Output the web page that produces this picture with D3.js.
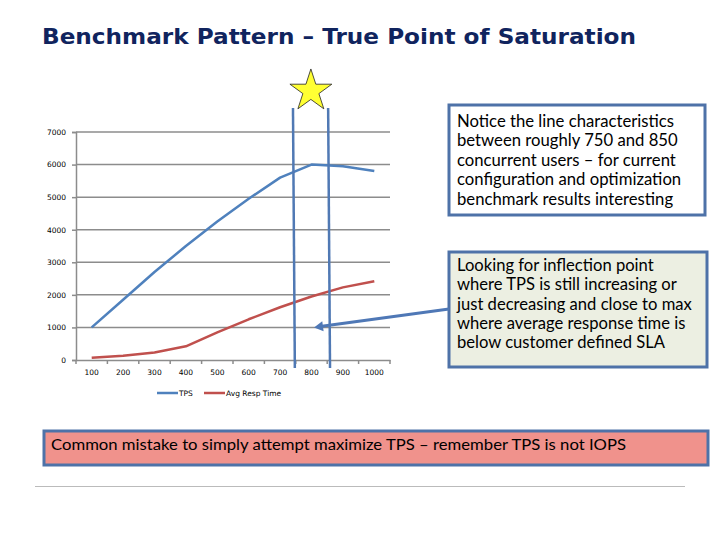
<!DOCTYPE html>
<html>
<head>
<meta charset="utf-8">
<script src="https://cdn.jsdelivr.net/npm/d3@7"></script>
<style>
  body { margin: 0; background: #fff; }
  svg { display: block; }
</style>
</head>
<body>
<div id="chart"></div>
<script>
// chart data
var users = [100, 200, 300, 400, 500, 600, 700, 800, 900, 1000];
var tps = [1000, 1850, 2700, 3500, 4250, 4950, 5600, 6000, 5950, 5800];
var respTime = [70, 130, 230, 420, 850, 1250, 1620, 1950, 2230, 2420];
var yTicks = [0, 1000, 2000, 3000, 4000, 5000, 6000, 7000];
var seriesNames = ["TPS", "Avg Resp Time"];
var seriesColors = ["#4F81BD", "#C0504D"];

var titleText = "Benchmark Pattern \u2013 True Point of Saturation";
var noteLines = ["Notice the line characteristics",
    "between roughly 750 and 850",
    "concurrent users \u2013 for current",
    "configuration and optimization",
    "benchmark results interesting"];
var inflectionLines = ["Looking for inflection point",
    "where TPS is still increasing or",
    "just decreasing and close to max",
    "where average response time is",
    "below customer defined SLA"];
var mistakeText = "Common mistake to simply attempt maximize TPS \u2013 remember TPS is not IOPS";

var width = 720, height = 540;
var plot = { left: 76, right: 390, top: 100, bottom: 360 };
var boxBorder = "#4E72A8";

var svg = d3.select("#chart").append("svg")
    .attr("width", width)
    .attr("height", height);

// title
svg.append("text")
    .attr("x", 42)
    .attr("y", 44)
    .attr("font-family", "DejaVu Sans, Verdana, sans-serif")
    .attr("font-weight", "bold")
    .attr("font-size", 21)
    .attr("fill", "#10245E")
    .attr("textLength", 594)
    .attr("lengthAdjust", "spacingAndGlyphs")
    .text(titleText);

var x = d3.scaleBand()
    .domain(users)
    .range([plot.left, plot.right]);

// continuous user scale through the band centres, for annotations
var xUsers = d3.scaleLinear()
    .domain([users[0], users[users.length - 1]])
    .range([x(users[0]) + x.bandwidth() / 2, x(users[users.length - 1]) + x.bandwidth() / 2]);

var y = d3.scaleLinear()
    .domain([0, 7000])
    .range([plot.bottom, plot.bottom - 7000 * 0.03257]);

// gridlines
svg.append("g")
  .selectAll("line")
  .data(yTicks.slice(1))
  .enter()
  .append("line")
    .attr("x1", plot.left)
    .attr("x2", plot.right)
    .attr("y1", function(d) { return y(d); })
    .attr("y2", function(d) { return y(d); })
    .attr("stroke", "#8C8C8C")
    .attr("stroke-width", 1.5);

// y axis
var yAxis = svg.append("g")
    .attr("transform", "translate(" + plot.left + ",0)")
    .call(d3.axisLeft(y).tickValues(yTicks).tickFormat(d3.format("d")).tickSize(4).tickPadding(6));
yAxis.select(".domain").attr("stroke", "#8C8C8C").attr("stroke-width", 1.5);
yAxis.selectAll(".tick line").attr("stroke", "#8C8C8C").attr("stroke-width", 1.5);
yAxis.selectAll("text")
    .attr("font-family", "DejaVu Sans, Verdana, sans-serif")
    .attr("font-size", 7.5)
    .attr("fill", "#000");

// x axis
var xAxis = svg.append("g")
    .attr("transform", "translate(0," + plot.bottom + ")")
    .call(d3.axisBottom(x).tickSize(0).tickPadding(10));
xAxis.select(".domain").attr("stroke", "#8C8C8C").attr("stroke-width", 1.5);
xAxis.selectAll("text")
    .attr("font-family", "DejaVu Sans, Verdana, sans-serif")
    .attr("font-size", 7.5)
    .attr("fill", "#000");
xAxis.selectAll(".boundary")
  .data(users.concat(["end"]))
  .enter()
  .append("line")
    .attr("class", "boundary")
    .attr("x1", function(d) { return d === "end" ? plot.right : x(d); })
    .attr("x2", function(d) { return d === "end" ? plot.right : x(d); })
    .attr("y1", 0)
    .attr("y2", 4)
    .attr("stroke", "#8C8C8C")
    .attr("stroke-width", 1.5);

// series lines
var series = [tps, respTime];
var line = d3.line()
    .x(function(d, i) { return x(users[i]) + x.bandwidth() / 2; })
    .y(function(d) { return y(d); });

svg.append("g")
  .selectAll("path")
  .data(series)
  .enter()
  .append("path")
    .attr("d", line)
    .attr("fill", "none")
    .attr("stroke", function(d, i) { return seriesColors[i]; })
    .attr("stroke-width", 2.5)
    .attr("stroke-linejoin", "round");

// legend
var legend = svg.append("g")
    .attr("transform", "translate(157,393)");
var legendItems = legend.selectAll("g")
  .data(seriesNames)
  .enter()
  .append("g")
    .attr("transform", function(d, i) { return "translate(" + (i * 47) + ",0)"; });
legendItems.append("line")
    .attr("x1", 0)
    .attr("x2", 21)
    .attr("stroke", function(d, i) { return seriesColors[i]; })
    .attr("stroke-width", 2.5);
legendItems.append("text")
    .attr("x", 22)
    .attr("dy", "0.35em")
    .attr("font-family", "DejaVu Sans, Verdana, sans-serif")
    .attr("font-size", 7.5)
    .text(function(d) { return d; });

// saturation window marks
var windowLines = [[741, 747], [853, 859]];
svg.append("g")
  .selectAll("line")
  .data(windowLines)
  .enter()
  .append("line")
    .attr("x1", function(d) { return xUsers(d[0]); })
    .attr("x2", function(d) { return xUsers(d[1]); })
    .attr("y1", 108)
    .attr("y2", 368)
    .attr("stroke", "#5079B4")
    .attr("stroke-width", 2.5);

// star
svg.append("path")
    .attr("d", d3.symbol().type(d3.symbolStar).size(545)())
    .attr("transform", "translate(" + (xUsers(798)) + ",91)")
    .attr("fill", "#FFFF33")
    .attr("stroke", "#222")
    .attr("stroke-width", 0.8);

// text boxes
function textBox(bx, by, bw, bh, fill, lines, fontSize, lineGap, firstY, textX) {
  var g = svg.append("g");
  g.append("rect")
      .attr("x", bx)
      .attr("y", by)
      .attr("width", bw)
      .attr("height", bh)
      .attr("fill", fill)
      .attr("stroke", boxBorder)
      .attr("stroke-width", 3);
  g.selectAll("text")
    .data(lines)
    .enter()
    .append("text")
      .attr("x", textX)
      .attr("y", function(d, i) { return firstY + i * lineGap; })
      .attr("dy", "0.35em")
      .attr("font-family", "Lato, 'Open Sans', sans-serif")
      .attr("font-size", fontSize)
      .attr("fill", "#000")
      .text(function(d) { return d; });
  return g;
}

textBox(449, 105, 256, 110, "#FFFFFF", noteLines, 16.7, 19.5, 121, 457);
textBox(449, 252, 258, 115, "#ECEFE2", inflectionLines, 16.6, 19.4, 265, 457);

// arrow from inflection box to the chart
var arrowFrom = [449, 309];
var arrowTo = [xUsers(808), y(1000)];
svg.append("line")
    .attr("x1", arrowFrom[0])
    .attr("y1", arrowFrom[1])
    .attr("x2", arrowTo[0] + 6)
    .attr("y2", arrowTo[1] - 1)
    .attr("stroke", "#4F78B6")
    .attr("stroke-width", 3);
var ang = Math.atan2(arrowTo[1] - arrowFrom[1], arrowTo[0] - arrowFrom[0]);
var headLen = 9, headW = 5;
var hx = arrowTo[0], hy = arrowTo[1];
var bx = hx - headLen * Math.cos(ang), byy = hy - headLen * Math.sin(ang);
svg.append("path")
    .attr("d", "M" + hx + "," + hy +
        "L" + (bx - headW * Math.sin(ang)) + "," + (byy + headW * Math.cos(ang)) +
        "L" + (bx + headW * Math.sin(ang)) + "," + (byy - headW * Math.cos(ang)) + "Z")
    .attr("fill", "#4F78B6");

// mistake banner
var banner = svg.append("g");
banner.append("rect")
    .attr("x", 44)
    .attr("y", 431)
    .attr("width", 664)
    .attr("height", 34)
    .attr("fill", "#F0928C")
    .attr("stroke", boxBorder)
    .attr("stroke-width", 3);
banner.append("text")
    .attr("x", 51)
    .attr("y", 444)
    .attr("dy", "0.35em")
    .attr("font-family", "Lato, 'Open Sans', sans-serif")
    .attr("font-size", 16)
    .attr("textLength", 575)
    .attr("lengthAdjust", "spacingAndGlyphs")
    .text(mistakeText);

// footer rule
svg.append("line")
    .attr("x1", 35)
    .attr("x2", 685)
    .attr("y1", 486.5)
    .attr("y2", 486.5)
    .attr("stroke", "#BBBBBB")
    .attr("stroke-width", 1);
</script>
</body>
</html>
